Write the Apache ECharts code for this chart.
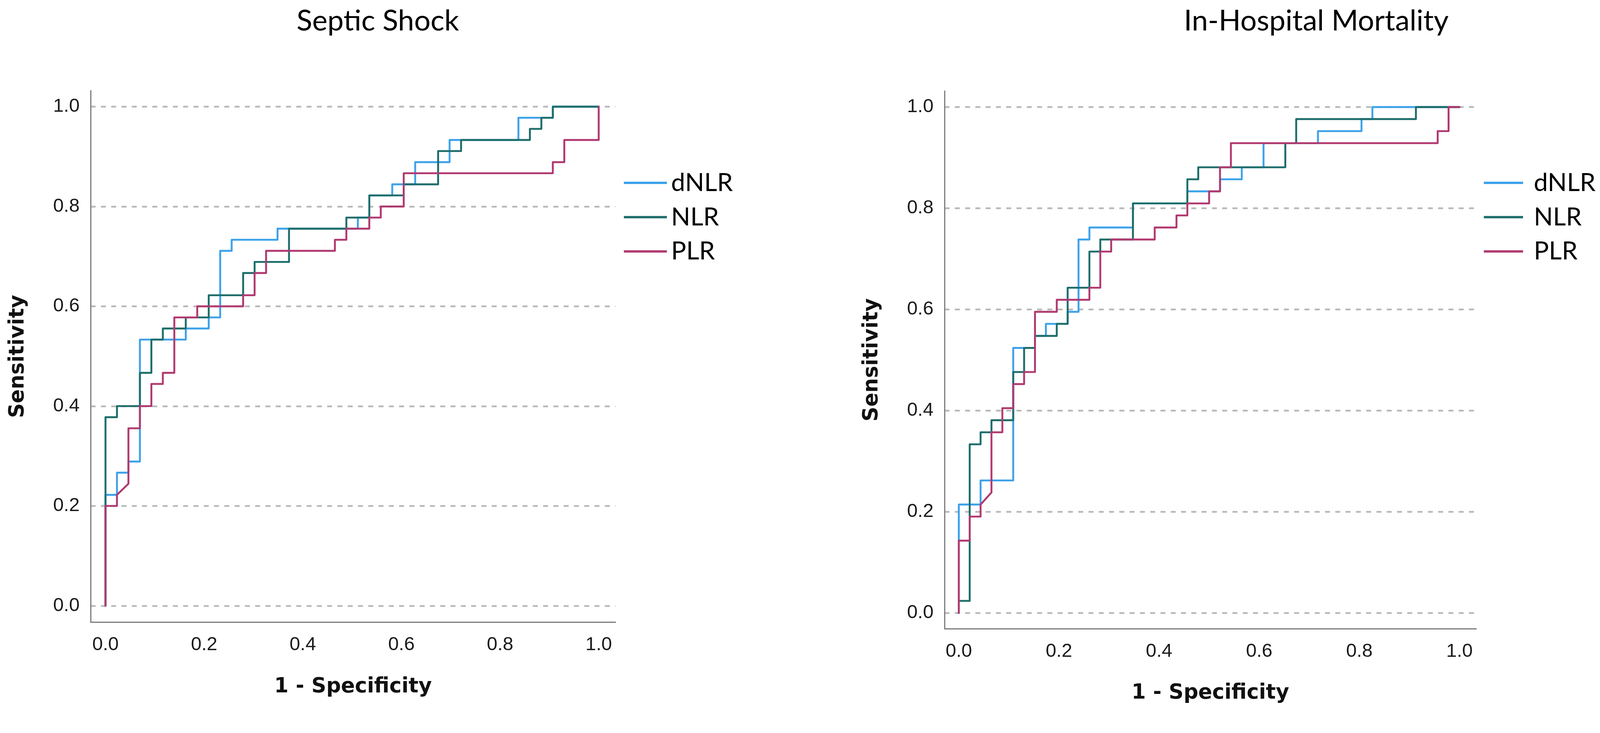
<!DOCTYPE html>
<html><head><meta charset="utf-8">
<script src="https://cdn.jsdelivr.net/npm/echarts@6/dist/echarts.min.js"></script>
<style>html,body{margin:0;padding:0;background:#fff;overflow:hidden}#c{position:absolute;left:0;top:0}</style>
</head><body><div id="c"></div>
<script>
// ---- data (ROC corner points, counted in false positives / true positives) ----
const tickValues = [0, 0.2, 0.4, 0.6, 0.8, 1.0];
const seriesNames = ['dNLR', 'NLR', 'PLR'];
const chartTitles = ['Septic Shock', 'In-Hospital Mortality'];

// Septic shock: 43 negatives, 45 positives
const shockNeg = 43, shockPos = 45;
const shockDNLR = [[0,0],[0,10],[1,10],[1,12],[2,12],[2,13],[3,13],[3,24],[7,24],[7,25],[9,25],[9,26],[10,26],[10,32],[11,32],[11,33],[15,33],[15,34],[22,34],[22,35],[23,35],[23,37],[25,37],[25,38],[27,38],[27,40],[30,40],[30,42],[36,42],[36,44],[39,44],[39,45],[43,45]];
const shockNLR = [[0,0],[0,17],[1,17],[1,18],[3,18],[3,21],[4,21],[4,24],[5,24],[5,25],[7,25],[7,26],[9,26],[9,28],[12,28],[12,30],[13,30],[13,31],[16,31],[16,34],[21,34],[21,35],[23,35],[23,37],[26,37],[26,38],[29,38],[29,41],[31,41],[31,42],[37,42],[37,43],[38,43],[38,44],[39,44],[39,45],[43,45]];
const shockPLR = [[0,0],[0,9],[1,9],[1,10],[2,11],[2,16],[3,16],[3,18],[4,18],[4,20],[5,20],[5,21],[6,21],[6,26],[8,26],[8,27],[12,27],[12,28],[13,28],[13,30],[14,30],[14,32],[20,32],[20,33],[21,33],[21,34],[23,34],[23,35],[24,35],[24,36],[26,36],[26,39],[39,39],[39,40],[40,40],[40,42],[43,42],[43,45]];

// In-hospital mortality: 46 negatives, 42 positives
const mortNeg = 46, mortPos = 42;
const mortDNLR = [[0,0],[0,9],[2,9],[2,11],[5,11],[5,22],[7,22],[7,23],[8,23],[8,24],[10,24],[10,25],[11,25],[11,31],[12,31],[12,32],[16,32],[16,34],[21,34],[21,35],[24,35],[24,36],[26,36],[26,37],[28,37],[28,39],[33,39],[33,40],[37,40],[37,41],[38,41],[38,42],[46,42]];
const mortNLR = [[0,0],[0,1],[1,1],[1,14],[2,14],[2,15],[3,15],[3,16],[5,16],[5,20],[6,20],[6,22],[7,22],[7,23],[9,23],[9,24],[10,24],[10,27],[12,27],[12,30],[13,30],[13,31],[16,31],[16,34],[21,34],[21,36],[22,36],[22,37],[30,37],[30,39],[31,39],[31,41],[42,41],[42,42],[46,42]];
const mortPLR = [[0,0],[0,6],[1,6],[1,8],[2,8],[2,9],[3,10],[3,15],[4,15],[4,17],[5,17],[5,19],[6,19],[6,20],[7,20],[7,25],[9,25],[9,26],[12,26],[12,27],[13,27],[13,30],[14,30],[14,31],[18,31],[18,32],[20,32],[20,33],[21,33],[21,34],[23,34],[23,35],[24,35],[24,37],[25,37],[25,39],[44,39],[44,40],[45,40],[45,42],[46,42]];

// ---- build ----
const W = 4201, H = 1876;
const S = Math.min(window.innerWidth / W, window.innerHeight / H) || 1;
const px = v => v * S;
const el = document.getElementById('c');
el.style.width = px(W) + 'px';
el.style.height = px(H) + 'px';

const colors = ['#3DA2EA', '#1E6E6B', '#B13A70'];
function toRate(pts, nNeg, nPos) { return pts.map(p => [p[0] / nNeg, p[1] / nPos]); }

const panels = [
  { grid: [238, 238, 1378, 1395], x: [-0.0301, 1.034], y: [-0.0328, 1.0321],
    sets: [shockDNLR, shockNLR, shockPLR], nNeg: shockNeg, nPos: shockPos,
    titleX: 992, legendLeft: 1638, legendW: 113, legendPad: 6 },
  { grid: [2480, 239, 1396, 1411], x: [-0.0285, 1.0335], y: [-0.0309, 1.0316],
    sets: [mortDNLR, mortNLR, mortPLR], nNeg: mortNeg, nPos: mortPos,
    titleX: 3456, legendLeft: 3896, legendW: 103, legendPad: 23 }
];

const labelFont = 'Liberation Sans, Arial, sans-serif';
const nameStyle = {fontSize: px(54), fontWeight: 'bold', fontFamily: 'DejaVu Sans, sans-serif', color: '#111'};
const option = {
  backgroundColor: '#fff', animation: false,
  title: panels.map((p, i) => ({
    text: chartTitles[i], left: px(p.titleX), top: px(18), textAlign: 'center', padding: 0,
    textStyle: {fontFamily: 'Lato, sans-serif', fontSize: px(76), fontWeight: 'normal', color: '#000'}
  })),
  legend: panels.map(p => ({
    orient: 'vertical', left: px(p.legendLeft), top: px(445), data: seriesNames, icon: 'rect',
    itemWidth: px(p.legendW), itemHeight: px(6), itemGap: px(20), selectedMode: false, padding: 0,
    textStyle: {fontFamily: 'Lato, sans-serif', fontSize: px(66), color: '#000', lineHeight: px(70), padding: [0, 0, 0, px(p.legendPad)]}
  })),
  grid: panels.map(p => ({outerBoundsMode: 'none', containLabel: false,
    left: px(p.grid[0]), top: px(p.grid[1]), width: px(p.grid[2]), height: px(p.grid[3])})),
  xAxis: panels.map((p, i) => ({
    gridIndex: i, type: 'value', min: p.x[0], max: p.x[1],
    axisLine: {show: true, onZero: false, lineStyle: {color: '#7a7a7a', width: px(3)}},
    axisTick: {show: false, customValues: tickValues},
    axisLabel: {customValues: tickValues, formatter: v => v.toFixed(1), margin: px(35), fontSize: px(50), fontFamily: labelFont, color: '#1a1a1a'},
    splitLine: {show: false},
    name: '1 - Specificity', nameLocation: 'middle', nameGap: px(143), nameTextStyle: nameStyle
  })),
  yAxis: panels.map((p, i) => ({
    gridIndex: i, type: 'value', min: p.y[0], max: p.y[1],
    axisLine: {show: true, onZero: false, lineStyle: {color: '#7a7a7a', width: px(3)}},
    axisTick: {show: false, customValues: tickValues},
    axisLabel: {customValues: tickValues, formatter: v => v.toFixed(1), margin: px(29), fontSize: px(50), fontFamily: labelFont, color: '#1a1a1a'},
    splitLine: {show: true, lineStyle: {type: [px(13), px(14)], color: '#b8b8b8', width: px(4.5)}},
    name: 'Sensitivity', nameLocation: 'middle', nameRotate: 90, nameGap: px(163), nameTextStyle: nameStyle
  })),
  series: []
};
panels.forEach((p, i) => {
  p.sets.forEach((pts, k) => {
    option.series.push({
      name: seriesNames[k], type: 'line', xAxisIndex: i, yAxisIndex: i,
      data: toRate(pts, p.nNeg, p.nPos), showSymbol: false, symbol: 'none', color: colors[k],
      lineStyle: {width: px(5), color: colors[k], join: 'round', cap: 'round'}, z: 2 + k, clip: false
    });
  });
});
const chart = echarts.init(el, null, {renderer: 'canvas'});
chart.setOption(option);
</script></body></html>
